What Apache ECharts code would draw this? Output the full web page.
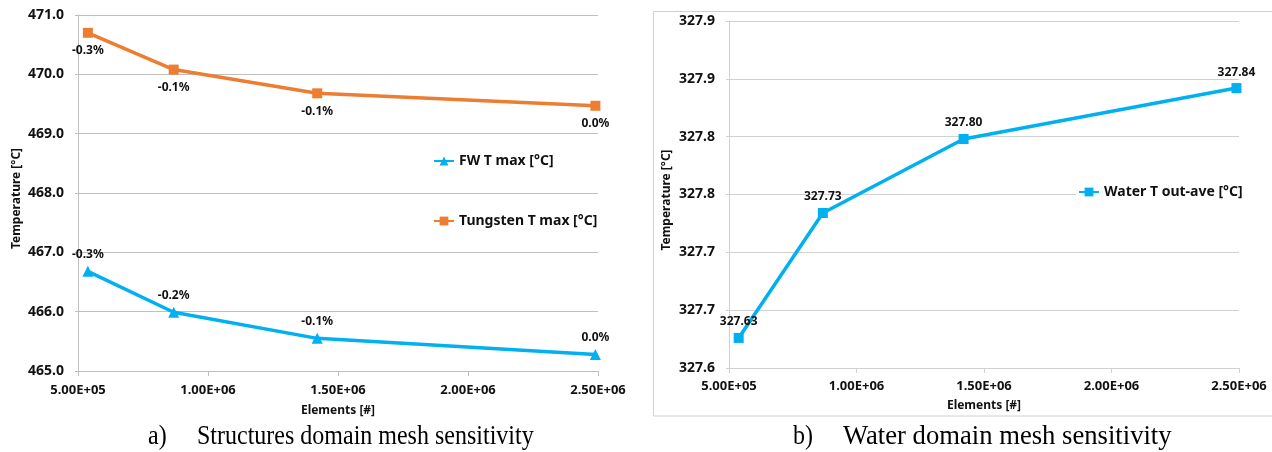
<!DOCTYPE html>
<html><head><meta charset="utf-8">
<script src="https://cdn.jsdelivr.net/npm/echarts@6/dist/echarts.min.js"></script>
<style>html,body{margin:0;padding:0;background:#fff}#c{width:1272px;height:452px}</style>
</head><body><div id="c"></div>
<script>
// ---- data ----
const elements = [538000, 868000, 1420000, 2490000];
const fwTmax = [466.68, 465.99, 465.55, 465.28];
const fwLabels = ['-0.3%', '-0.2%', '-0.1%', '0.0%'];
const tungstenTmax = [470.70, 470.08, 469.68, 469.47];
const tungstenLabels = ['-0.3%', '-0.1%', '-0.1%', '0.0%'];
const waterTout = [327.626, 327.734, 327.798, 327.842];
const xTickLabels = ['5.00E+05', '1.00E+06', '1.50E+06', '2.00E+06', '2.50E+06'];
const leftYTickLabels = ['465.0', '466.0', '467.0', '468.0', '469.0', '470.0', '471.0'];
const rightYTickLabels = ['327.6', '327.7', '327.7', '327.8', '327.8', '327.9', '327.9'];
const seriesNames = ['FW T max [°C]', 'Tungsten T max [°C]', 'Water T out-ave [°C]'];
const xTitle = 'Elements [#]';
const yTitle = 'Temperature [°C]';
const captions = ['a)', 'Structures domain mesh sensitivity', 'b)', 'Water domain mesh sensitivity'];

// ---- styles ----
const FONT = '"Noto Sans", "DejaVu Sans", sans-serif';
const BLUE = '#00B0F0', ORANGE = '#ED7D31';
const lblStyle = {fontFamily: FONT, fontWeight: 'bold', fontSize: 12, color: '#111'};

function xAxisCfg(gridIndex, grid, margin, nameGap) {
  return {
    type: 'value', gridIndex, min: 500000, max: 2500000, interval: 500000,
    axisLine: {show: true, lineStyle: {color: grid, width: 1}},
    axisTick: {show: true, length: 5, lineStyle: {color: grid}},
    splitLine: {show: false},
    axisLabel: {margin, fontFamily: FONT, fontWeight: 'bold', fontSize: 13, color: '#111',
      formatter: v => xTickLabels[Math.round((v - 500000) / 500000)]},
    name: xTitle, nameLocation: 'middle', nameGap,
    nameTextStyle: {fontFamily: FONT, fontWeight: 'bold', fontSize: 12, color: '#111'}
  };
}

const capFont = '24px "Liberation Serif", "Times New Roman", serif';

const chart = echarts.init(document.getElementById('c'), null, {renderer: 'canvas'});
chart.setOption({
  animation: false,
  backgroundColor: '#fff',
  grid: [
    {left: 78, top: 15, width: 520, height: 356},
    {left: 729, top: 21, width: 510, height: 347}
  ],
  xAxis: [
    xAxisCfg(0, '#BFBFBF', 13, 34),
    xAxisCfg(1, '#D0D0D0', 12, 32)
  ],
  yAxis: [
    {type: 'value', gridIndex: 0, min: 465, max: 471, interval: 1,
     axisLine: {show: true, lineStyle: {color: '#BFBFBF'}},
     axisTick: {show: true, length: 3, lineStyle: {color: '#BFBFBF'}},
     splitLine: {show: true, lineStyle: {color: '#BFBFBF', width: 1}},
     axisLabel: {margin: 14, fontFamily: FONT, fontWeight: 'bold', fontSize: 14, color: '#111',
       formatter: v => leftYTickLabels[Math.round(v - 465)]}},
    {type: 'value', gridIndex: 1, min: 327.6, max: 327.9, interval: 0.05,
     axisLine: {show: true, lineStyle: {color: '#D0D0D0'}},
     axisTick: {show: true, length: 3, lineStyle: {color: '#D0D0D0'}},
     splitLine: {show: true, lineStyle: {color: '#D0D0D0', width: 1}},
     axisLabel: {margin: 14, fontFamily: FONT, fontWeight: 'bold', fontSize: 14, color: '#111',
       formatter: v => rightYTickLabels[Math.round((v - 327.6) / 0.05)]}}
  ],
  legend: [
    {data: [seriesNames[0]], left: 433, top: 154, itemWidth: 20, itemHeight: 11, padding: 0,
     textStyle: {fontFamily: FONT, fontWeight: 'bold', fontSize: 14, color: '#111'}},
    {data: [seriesNames[1]], left: 433, top: 214, itemWidth: 20, itemHeight: 11, padding: 0,
     textStyle: {fontFamily: FONT, fontWeight: 'bold', fontSize: 14, color: '#111'}},
    {data: [seriesNames[2]], left: 1076, top: 185, itemWidth: 20, itemHeight: 11, padding: [0, 2, 0, 2],
     backgroundColor: '#fff',
     textStyle: {fontFamily: FONT, fontWeight: 'bold', fontSize: 14, color: '#111'}}
  ],
  graphic: [
    {type: 'rect', z: -1, shape: {x: 653.5, y: 11.5, width: 640, height: 404.5},
     style: {fill: 'none', stroke: '#D0D0D0', lineWidth: 1}},
    {type: 'text', x: 17, y: 198.5, rotation: Math.PI / 2,
     style: {text: yTitle, font: 'bold 12px ' + FONT, fill: '#111', align: 'center', verticalAlign: 'middle'}},
    {type: 'text', x: 667, y: 200, rotation: Math.PI / 2,
     style: {text: yTitle, font: 'bold 12px ' + FONT, fill: '#111', align: 'center', verticalAlign: 'middle'}},
    {type: 'text', x: 148, y: 437, scaleY: 1.12, style: {text: captions[0], font: capFont, fill: '#000', verticalAlign: 'middle'}},
    {type: 'text', x: 197, y: 437, scaleY: 1.12, style: {text: captions[1], font: capFont, fill: '#000', verticalAlign: 'middle'}},
    {type: 'text', x: 793, y: 437, scaleY: 1.12, style: {text: captions[2], font: capFont, fill: '#000', verticalAlign: 'middle'}},
    {type: 'text', x: 843, y: 437, scaleX: 1.11, scaleY: 1.12, style: {text: captions[3], font: capFont, fill: '#000', verticalAlign: 'middle'}}
  ],
  series: [
    {name: seriesNames[0], type: 'line', xAxisIndex: 0, yAxisIndex: 0,
     data: elements.map((x, i) => [x, fwTmax[i]]),
     symbol: 'triangle', symbolSize: 11, showSymbol: true,
     itemStyle: {color: BLUE}, lineStyle: {color: BLUE, width: 3.5},
     label: {show: true, position: 'top', distance: 5, ...lblStyle,
       formatter: p => fwLabels[p.dataIndex]}},
    {name: seriesNames[1], type: 'line', xAxisIndex: 0, yAxisIndex: 0,
     data: elements.map((x, i) => [x, tungstenTmax[i]]),
     symbol: 'rect', symbolSize: 10, showSymbol: true,
     itemStyle: {color: ORANGE}, lineStyle: {color: ORANGE, width: 3.5},
     label: {show: true, position: 'bottom', distance: 7, ...lblStyle,
       formatter: p => tungstenLabels[p.dataIndex]}},
    {name: seriesNames[2], type: 'line', xAxisIndex: 1, yAxisIndex: 1,
     data: elements.map((x, i) => [x, waterTout[i]]),
     symbol: 'rect', symbolSize: 10, showSymbol: true,
     itemStyle: {color: BLUE}, lineStyle: {color: BLUE, width: 3.5},
     label: {show: true, position: 'top', distance: 5, ...lblStyle,
       formatter: p => p.value[1].toFixed(2)}}
  ]
});
</script></body></html>
